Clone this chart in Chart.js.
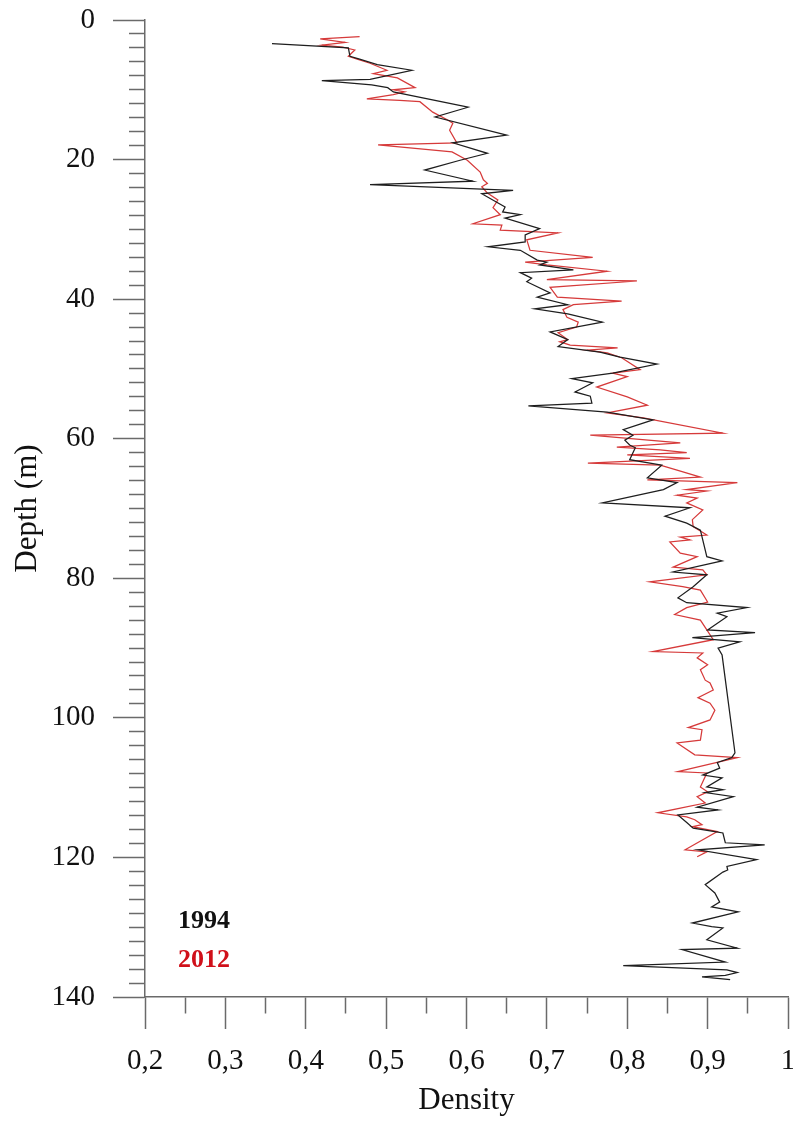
<!DOCTYPE html>
<html>
<head>
<meta charset="utf-8">
<script src="https://cdn.jsdelivr.net/npm/chart.js@4.4.1/dist/chart.umd.min.js"></script>
<style>
html,body{margin:0;padding:0;background:#fff;overflow:hidden}
#wrap{width:793px;height:1121px;position:relative}
</style>
</head>
<body>
<div id="wrap"><canvas id="c"></canvas></div>
<script>
// ---- data ----
const depth1994 = [
  3.4,4.0,5.2,5.6,6.4,7.2,8.5,8.7,9.3,9.7,
  10.3,12.5,13.9,16.5,17.6,19.1,20.1,21.5,23.1,23.6,
  24.4,24.9,26.8,27.5,27.9,28.4,29.9,30.8,31.8,32.5,
  33.0,34.4,34.7,35.1,35.8,36.2,37.0,37.5,39.1,39.7,
  40.8,41.4,42.1,43.3,44.7,45.8,46.8,47.6,48.3,49.3,
  50.6,51.4,52.0,53.3,53.9,54.9,55.3,56.2,57.3,58.7,
  59.5,60.2,60.9,61.3,63.0,63.8,65.6,66.3,67.3,69.2,
  69.9,71.1,72.1,73.1,76.9,77.5,79.1,79.5,81.2,82.8,
  83.5,84.2,85.0,85.5,87.4,87.8,88.5,89.1,90.0,91.0,
  105.0,105.7,106.4,107.2,108.2,108.6,109.9,110.3,110.7,111.3,
  112.8,113.2,113.9,115.0,115.8,116.3,116.5,117.9,118.2,118.9,
  120.3,121.3,121.8,122.1,123.9,125.1,126.4,127.1,127.8,129.4,
  129.9,130.1,131.8,133.0,133.2,135.0,135.5,136.1,136.5,136.9,
  137.1,137.5
];
const density1994 = [
  0.358,0.453,0.455,0.467,0.489,0.532,0.480,0.420,0.482,0.502,
  0.509,0.602,0.561,0.650,0.583,0.626,0.592,0.548,0.608,0.480,
  0.658,0.619,0.648,0.645,0.667,0.648,0.691,0.673,0.673,0.627,
  0.667,0.688,0.700,0.691,0.733,0.667,0.681,0.675,0.704,0.688,
  0.726,0.685,0.726,0.769,0.704,0.726,0.714,0.766,0.791,0.837,
  0.782,0.731,0.757,0.735,0.754,0.756,0.677,0.775,0.832,0.795,
  0.807,0.797,0.803,0.810,0.803,0.843,0.825,0.862,0.845,0.769,
  0.878,0.847,0.874,0.891,0.899,0.918,0.857,0.899,0.882,0.863,
  0.874,0.949,0.912,0.924,0.900,0.959,0.881,0.940,0.913,0.918,
  0.934,0.930,0.912,0.915,0.894,0.918,0.899,0.919,0.897,0.932,
  0.887,0.913,0.863,0.874,0.882,0.909,0.919,0.922,0.971,0.888,
  0.961,0.924,0.925,0.919,0.897,0.909,0.915,0.905,0.938,0.881,
  0.905,0.919,0.899,0.937,0.868,0.922,0.795,0.924,0.937,0.922,
  0.893,0.928
];
const depth2012 = [
  2.4,2.7,3.2,3.6,3.9,4.3,5.2,5.6,6.2,7.2,
  7.7,8.3,9.7,10.0,10.3,10.7,11.3,11.5,11.7,13.2,
  14.3,14.8,15.8,17.6,17.9,18.9,20.1,21.8,22.9,23.4,
  23.9,24.8,25.8,26.9,27.9,29.2,29.4,30.1,30.5,31.5,
  33.0,34.0,34.7,35.1,36.0,37.2,37.4,38.3,39.7,40.3,
  40.8,41.5,42.6,43.3,44.0,44.8,45.8,46.1,46.6,47.0,
  47.3,47.7,48.4,50.1,50.6,51.1,52.6,54.0,55.2,56.3,
  57.0,59.2,59.5,60.6,61.2,61.6,62.0,62.3,62.8,63.5,
  63.8,64.5,65.5,65.9,66.3,67.3,67.5,68.1,68.5,69.2,
  70.2,71.6,72.6,73.8,74.1,74.5,74.8,76.4,76.9,78.4,
  78.8,79.5,80.5,81.2,81.7,83.4,84.2,85.2,86.0,87.4,
  88.8,90.5,90.7,91.4,92.4,93.1,94.6,95.0,96.0,97.1,
  97.9,98.9,100.3,101.4,101.7,103.2,103.6,105.3,105.7,107.7,
  107.9,109.9,110.6,111.3,112.2,113.6,114.2,114.6,115.3,115.6,
  116.3,118.9,119.2,119.9
];
const density2012 = [
  0.467,0.418,0.449,0.420,0.446,0.461,0.453,0.464,0.480,0.501,
  0.484,0.514,0.536,0.509,0.523,0.509,0.476,0.517,0.542,0.558,
  0.576,0.583,0.579,0.588,0.490,0.582,0.601,0.617,0.621,0.626,
  0.619,0.626,0.639,0.633,0.642,0.608,0.644,0.642,0.714,0.675,
  0.679,0.757,0.673,0.700,0.775,0.700,0.812,0.704,0.713,0.793,
  0.733,0.720,0.725,0.739,0.737,0.714,0.726,0.716,0.729,0.788,
  0.750,0.775,0.793,0.816,0.782,0.800,0.762,0.800,0.825,0.775,
  0.820,0.919,0.754,0.866,0.787,0.841,0.874,0.800,0.878,0.751,
  0.841,0.862,0.891,0.825,0.937,0.874,0.899,0.862,0.887,0.874,
  0.894,0.881,0.882,0.899,0.866,0.878,0.853,0.866,0.887,0.857,
  0.894,0.899,0.828,0.869,0.891,0.900,0.874,0.859,0.891,0.899,
  0.907,0.832,0.894,0.887,0.900,0.891,0.897,0.903,0.907,0.888,
  0.903,0.909,0.903,0.876,0.893,0.891,0.862,0.884,0.937,0.863,
  0.899,0.891,0.900,0.887,0.897,0.838,0.874,0.884,0.893,0.881,
  0.912,0.872,0.899,0.887
];
const seriesLabels = ['1994', '2012'];
const xTickLabels = ['0,2','0,3','0,4','0,5','0,6','0,7','0,8','0,9','1'];
const yTickLabels = ['0','20','40','60','80','100','120','140'];

// ---- helpers ----
const FONT = '"Liberation Serif", "Times New Roman", serif';
const lineColors = ['#1e1e1e', '#d63a3a'];
const textColors = ['#111111', '#d0101a'];
const AXIS = '#6a6a6a';

function toPoints(depths, dens) {
  const n = Math.min(depths.length, dens.length);
  const pts = [];
  for (let i = 0; i < n; i++) pts.push({x: dens[i], y: depths[i]});
  return pts;
}
function isMajorX(v) { return Math.abs(v * 10 - Math.round(v * 10)) < 1e-6; }
function isMajorY(v) { return Math.abs(v / 20 - Math.round(v / 20)) < 1e-6; }

const legendPlugin = {
  id: 'yearLegend',
  afterDatasetsDraw(chart) {
    const {ctx, scales: {x, y}} = chart;
    const lx = x.getPixelForValue(0.241);
    const ly = [y.getPixelForValue(129.1), y.getPixelForValue(134.8)];
    ctx.save();
    ctx.font = 'bold 26px ' + FONT;
    ctx.textAlign = 'left';
    ctx.textBaseline = 'middle';
    seriesLabels.forEach((lab, i) => {
      ctx.fillStyle = textColors[i];
      ctx.fillText(lab, lx, ly[i]);
    });
    ctx.restore();
  }
};

new Chart(document.getElementById('c'), {
  type: 'scatter',
  data: {
    datasets: [
      {label: seriesLabels[0], data: toPoints(depth1994, density1994), showLine: true,
       borderColor: lineColors[0], borderWidth: 1.25, pointRadius: 0, tension: 0, fill: false},
      {label: seriesLabels[1], data: toPoints(depth2012, density2012), showLine: true,
       borderColor: lineColors[1], borderWidth: 1.25, pointRadius: 0, tension: 0, fill: false}
    ]
  },
  options: {
    responsive: true,
    maintainAspectRatio: false,
    animation: false,
    layout: {padding: {left: 0, right: 5, top: 20, bottom: 0}},
    plugins: {legend: {display: false}, tooltip: {enabled: false}},
    scales: {
      x: {
        type: 'linear', position: 'bottom', min: 0.2, max: 1,
        ticks: {
          stepSize: 0.05, autoSkip: false, maxRotation: 0, minRotation: 0, padding: 15,
          color: '#111', font: {family: FONT, size: 29},
          callback: (v) => isMajorX(v) ? xTickLabels[Math.round((v - 0.2) * 10)] : ''
        },
        grid: {
          drawOnChartArea: false, drawTicks: true, tickLength: 32,
          tickColor: AXIS, tickWidth: 1.5,
          tickBorderDash: (c) => (c.tick && !isMajorX(c.tick.value)) ? [16, 200] : [],
          tickBorderDashOffset: 0
        },
        border: {display: true, color: AXIS, width: 1.5},
        title: {display: true, text: 'Density', color: '#111', font: {family: FONT, size: 31},
                padding: {top: 0, bottom: 2}},
        afterFit: (s) => { s.height = 124; s.paddingLeft = 0; s.paddingRight = 0; s.paddingTop = 0; s.paddingBottom = 0; }
      },
      y: {
        type: 'linear', position: 'left', reverse: true, min: 0, max: 140,
        ticks: {
          stepSize: 2, autoSkip: false, padding: 18,
          color: '#111', font: {family: FONT, size: 29},
          callback: (v) => isMajorY(v) ? yTickLabels[Math.round(v / 20)] : ''
        },
        grid: {
          drawOnChartArea: false, drawTicks: true, tickLength: 32,
          tickColor: AXIS, tickWidth: 1.5,
          tickBorderDash: (c) => (c.tick && !isMajorY(c.tick.value)) ? [16, 16] : [],
          tickBorderDashOffset: (c) => (c.tick && !isMajorY(c.tick.value)) ? 16 : 0
        },
        border: {display: true, color: AXIS, width: 1.5},
        title: {display: true, text: 'Depth (m)', color: '#111', font: {family: FONT, size: 31},
                padding: {top: 9, bottom: 0}},
        afterFit: (s) => { s.width = 145; s.paddingTop = 0; s.paddingBottom = 0; }
      }
    }
  },
  plugins: [legendPlugin]
});
</script>
</body>
</html>
